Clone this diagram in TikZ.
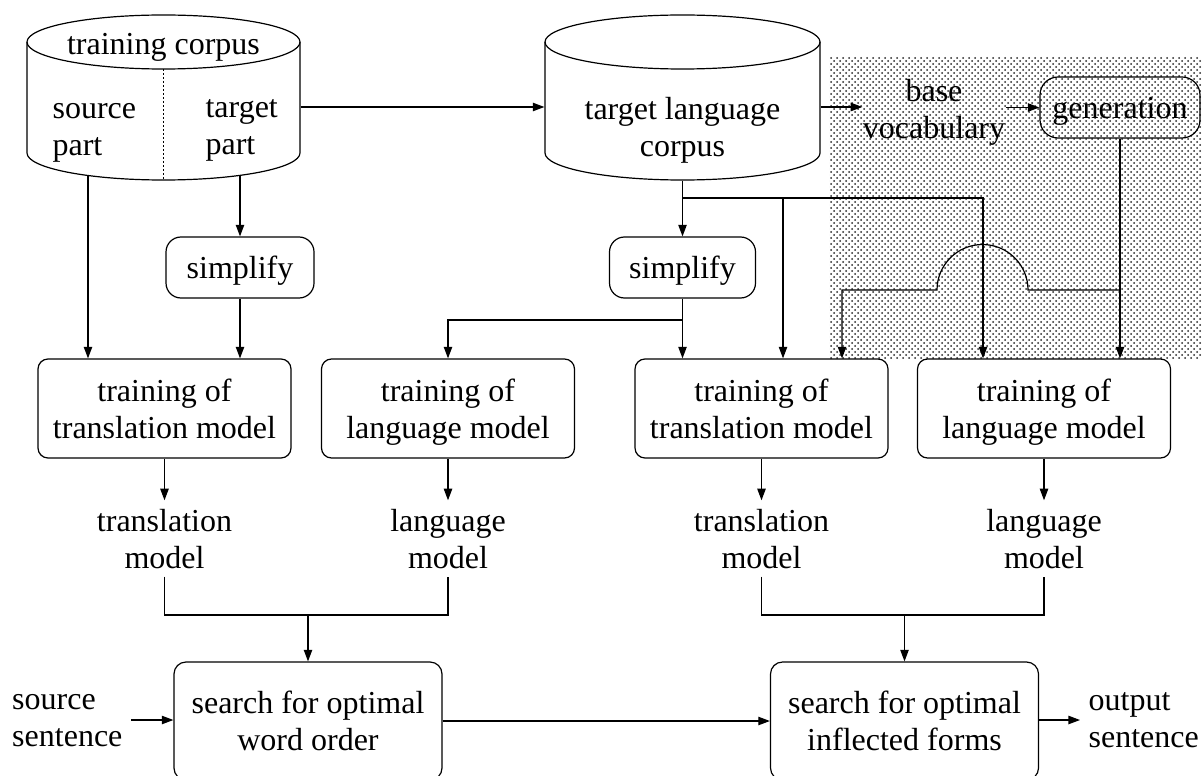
\documentclass[tikz,border=0pt]{standalone}
\usepackage{fontspec}
\setmainfont{Liberation Serif}
\usetikzlibrary{arrows.meta,patterns,calc}
\begin{document}
\begin{tikzpicture}[x=0.5pt,y=-0.5pt,line width=0.6pt,
  >={Triangle[length=5.8pt,width=4.2pt]},
  every node/.style={font=\fontsize{16pt}{18.5pt}\selectfont},
  txt/.style={inner sep=0pt,text depth=0pt,align=center},
  lbl/.style={inner sep=4pt,text depth=0pt,align=center},
  proc/.style={draw,rounded corners=5pt,inner sep=0pt,text depth=0pt,align=center,minimum width=126.5pt,minimum height=49.5pt},
  pill/.style={draw,rounded corners=7.5pt,inner sep=0pt,text depth=0pt,minimum height=30.5pt},
  search/.style={draw,rounded corners=6pt,inner sep=0pt,text depth=0pt,align=center,minimum width=134pt,minimum height=59pt},
  hole/.style={inner sep=0pt,minimum height=73pt},
]
\useasboundingbox (0,0) rectangle (1202,775);
\clip (0,0) rectangle (1202,775);
\fill[pattern=crosshatch dots,pattern color=black!85] (829,57) rectangle (1202,358);

% cylinder 1
\draw (27,42) -- (27,153) arc[start angle=180,end angle=360,x radius=68.25pt,y radius=13.5pt] -- (300,42);
\draw (163.5,42) ellipse[x radius=68.25pt,y radius=13.5pt];
\draw[dash pattern=on 1pt off 1pt] (163.5,69) -- (163.5,180);
\node[hole,minimum width=136.5pt] (tc) at (163.5,107) {};
\node[txt] (tcT) at (163.5,44) {training corpus};
\node[txt,align=left,anchor=west] (tcS) at (52,129) {source\\part};
\node[txt,align=left,anchor=west] (tcG) at (205,127) {target\\part};

% cylinder 2
\draw (545,42) -- (545,153) arc[start angle=180,end angle=360,x radius=68.75pt,y radius=13.5pt] -- (820,42);
\draw (682.5,42) ellipse[x radius=68.75pt,y radius=13.5pt];
\node[hole,minimum width=137.5pt] (tlc) at (682.5,107) {};
\node[txt] (tlcT) at (682.5,127) {target language\\corpus};

\node[txt] (base) at (934,108.5) {base\\vocabulary};
\node[pill,minimum width=80pt,rounded corners=9pt] (gen) at (1120,107.5) {generation};

\node[pill,minimum width=74pt] (s1) at (240,267.5) {simplify};
\node[pill,minimum width=73pt] (s2) at (682.5,267.5) {simplify};

\node[proc] (b1) at (164.5,408.5) {training of\\translation model};
\node[proc] (b2) at (448,408.5) {training of\\language model};
\node[proc] (b3) at (761.5,408.5) {training of\\translation model};
\node[proc] (b4) at (1044,408.5) {training of\\language model};

\node[lbl] (m1) at (164.5,538.5) {translation\\model};
\node[lbl] (m2) at (448,538.5) {language\\model};
\node[lbl] (m3) at (761.5,538.5) {translation\\model};
\node[lbl] (m4) at (1044,538.5) {language\\model};

\node[search] (w) at (308,721) {search for optimal\\word order};
\node[search] (f) at (904.5,721) {search for optimal\\inflected forms};
\node[lbl,align=left,anchor=east] (src) at (131,720) {source\\sentence};
\node[lbl,align=left,anchor=west] (out) at (1080,720) {output\\sentence};

% connectors
\coordinate (tcL) at (88,175.5);
\coordinate (tcR) at (240,175.5);
\draw[->] (tc.east) -- (tlc.west);
\draw[->] (tlc.east) -- (tlc.east -| base.west);
\draw[->] (base.east |- gen.west) -- (gen.west);
\draw[->] (tcL) -- (tcL |- b1.north);
\draw[->] (tcR) -- (s1.north);
\draw[->] (s1.south) -- (s1.south |- b1.north);
\draw[->] (tlc.south) -- (s2.north);
\coordinate (j1) at (682.5,198);
\draw[->] (j1) -| ($(b3.north)+(21.5,0)$);
\draw[->] (j1) -| ($(b4.north)+(-61,0)$);
\draw[->] (s2.south) -- (s2.south |- b3.north);
\coordinate (j2) at (682.5,320);
\draw[->] (j2) -| (b2.north);
\draw[->] (gen.south) -- (gen.south |- b4.north);
\coordinate (j3) at (1120,290);
\draw[->] (j3) -- (1028,290) arc[start angle=0,end angle=180,radius=22.75pt] -- (842,290) -- ($(b3.north)+(80.5,0)$);

\foreach \b/\m in {b1/m1,b2/m2,b3/m3,b4/m4} \draw[->] (\b.south) -- (\m.north);

\coordinate (k1) at (308,615);
\draw (m1.south) |- (k1) -| (m2.south);
\draw[->] (k1) -- (w.north);
\coordinate (k2) at (904.5,615);
\draw (m3.south) |- (k2) -| (m4.south);
\draw[->] (k2) -- (f.north);

\draw[->] (src.east) -- (src.east -| w.west);
\draw[->] (w.east) -- (f.west);
\draw[->] (f.east |- out.west) -- (out.west);
\end{tikzpicture}
\end{document}
